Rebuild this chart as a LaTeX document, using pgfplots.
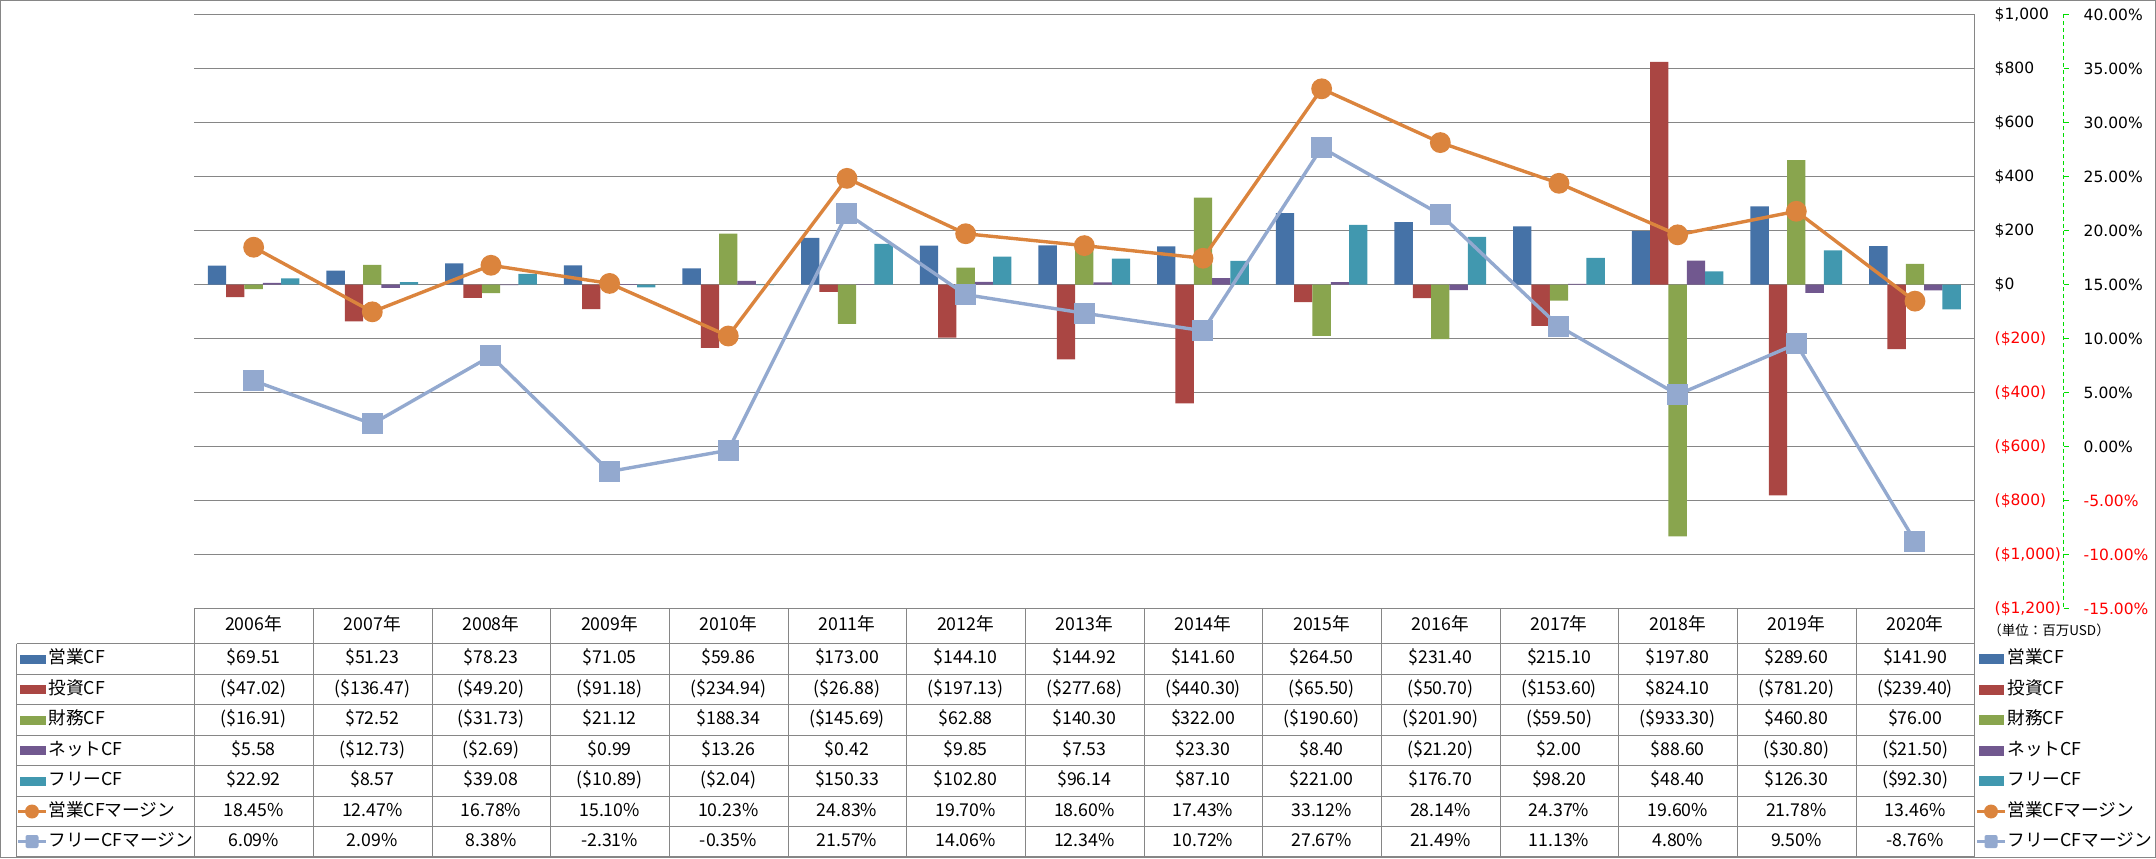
\documentclass[border=0pt]{standalone}
\usepackage{pgfplots}
\usepackage{pgfplotstable}
\pgfplotsset{compat=1.18}
\usepackage{fontspec}
\setmainfont{DejaVu Sans}
\newfontfamily\jp{Noto Sans CJK JP}
\definecolor{cBlue}{HTML}{4572A7}
\definecolor{cRed}{HTML}{AA4643}
\definecolor{cGreen}{HTML}{89A54E}
\definecolor{cPurple}{HTML}{71588F}
\definecolor{cTeal}{HTML}{4198AF}
\definecolor{cOrange}{HTML}{DB843D}
\definecolor{cLBlue}{HTML}{93A9CF}
\definecolor{cGrid}{HTML}{868686}
\definecolor{cAxGreen}{HTML}{00DD00}
\newcommand{\tf}{\jp\fontsize{8.85pt}{10pt}\selectfont}
\newcommand{\af}{\fontsize{7.75pt}{9pt}\selectfont}

\pgfplotstableread{
x op inv fin net free om fm
0 69.51 -47.02 -16.91 5.58 22.92 18.45 6.09
1 51.23 -136.47 72.52 -12.73 8.57 12.47 2.09
2 78.23 -49.20 -31.73 -2.69 39.08 16.78 8.38
3 71.05 -91.18 21.12 0.99 -10.89 15.10 -2.31
4 59.86 -234.94 188.34 13.26 -2.04 10.23 -0.35
5 173.00 -26.88 -145.69 0.42 150.33 24.83 21.57
6 144.10 -197.13 62.88 9.85 102.80 19.70 14.06
7 144.92 -277.68 140.30 7.53 96.14 18.60 12.34
8 141.60 -440.30 322.00 23.30 87.10 17.43 10.72
9 264.50 -65.50 -190.60 8.40 221.00 33.12 27.67
10 231.40 -50.70 -201.90 -21.20 176.70 28.14 21.49
11 215.10 -153.60 -59.50 2.00 98.20 24.37 11.13
12 197.80 824.10 -933.30 88.60 48.40 19.60 4.80
13 289.60 -781.20 460.80 -30.80 126.30 21.78 9.50
14 141.90 -239.40 76.00 -21.50 -92.30 13.46 -8.76
}\cfdata

% row boundaries (px from top): 643.5,674.5,704.5,735.5,765.5,796.5,826.5,856.5
\newcommand{\rc}[1]{\ifcase#1 659\or 689.5\or 720\or 750.5\or 781\or 811.5\or 841.5\fi}
\tikzset{tnode/.style={font=\tf, inner sep=0pt, text height=6.5pt, text depth=1.8pt}}
\newcommand{\trow}[2]{\foreach \v [count=\i] in {#2} {\node[tnode] at ({194.3+118.67*(\i-0.5)},\rc{#1}) {\v};}}

\begin{document}
\begin{tikzpicture}
\path[use as bounding box] (0,0) rectangle (1078pt,429pt);
\begin{axis}[
  at={(97.15pt,124.75pt)}, anchor=south west, scale only axis,
  width=890pt, height=297pt,
  xmin=-0.5, xmax=14.5, ymin=-1200, ymax=1000,
  axis line style={draw=none}, xtick=\empty,
  ytick={-1200,-1000,-800,-600,-400,-200,0,200,400,600,800,1000},
  yticklabels={{\textcolor{red}{(\$1,200)}},{\textcolor{red}{(\$1,000)}},{\textcolor{red}{(\$800)}},{\textcolor{red}{(\$600)}},{\textcolor{red}{(\$400)}},{\textcolor{red}{(\$200)}},{\$0},{\$200},{\$400},{\$600},{\$800},{\$1,000}},
  yticklabel pos=right,
  yticklabel style={anchor=west, inner sep=0pt, xshift=10pt, font=\af},
  major tick length=0pt,
  ymajorgrids, grid style={color=cGrid, line width=0.65pt},
]
\addplot[ybar, bar width=9.17pt, bar shift=-18.33pt, fill=cBlue, draw=none] table[x=x,y=op]{\cfdata};
\addplot[ybar, bar width=9.17pt, bar shift=-9.17pt, fill=cRed, draw=none] table[x=x,y=inv]{\cfdata};
\addplot[ybar, bar width=9.17pt, bar shift=0pt, fill=cGreen, draw=none] table[x=x,y=fin]{\cfdata};
\addplot[ybar, bar width=9.17pt, bar shift=9.17pt, fill=cPurple, draw=none] table[x=x,y=net]{\cfdata};
\addplot[ybar, bar width=9.17pt, bar shift=18.33pt, fill=cTeal, draw=none] table[x=x,y=free]{\cfdata};
\end{axis}
\begin{axis}[
  at={(97.15pt,124.75pt)}, anchor=south west, scale only axis,
  width=890pt, height=297pt,
  xmin=-0.5, xmax=14.5, ymin=-15, ymax=40,
  axis line style={draw=none}, xtick=\empty,
  ytick={-15,-10,-5,0,5,10,15,20,25,30,35,40},
  yticklabels={{\textcolor{red}{-15.00\%}},{\textcolor{red}{-10.00\%}},{\textcolor{red}{-5.00\%}},{0.00\%},{5.00\%},{10.00\%},{15.00\%},{20.00\%},{25.00\%},{30.00\%},{35.00\%},{40.00\%}},
  yticklabel pos=right,
  yticklabel style={anchor=west, inner sep=0pt, xshift=54.5pt, font=\af},
  major tick length=0pt,
]
\addplot[cOrange, line width=1.7pt, mark=*, mark size=4.35pt, mark options={draw=none, fill=cOrange}] table[x=x,y=om]{\cfdata};
\addplot[cLBlue, line width=1.7pt, mark=square*, mark size=4.4pt, mark options={draw=none, fill=cLBlue, rounded corners=1.2pt}] table[x=x,y=fm]{\cfdata};
\end{axis}

\begin{scope}[shift={(0pt,429pt)}, x=0.5pt, y=-0.5pt]
  % outer border
  \draw[cGrid, line width=0.65pt] (0.5,0.5) rectangle (2155.5,857.5);
  % table grid
  \draw[cGrid, line width=0.65pt] (194.5,608.5) -- (1974.5,608.5);
  \foreach \yy in {643.5,674.5,704.5,735.5,765.5,796.5,826.5,856.5} {\draw[cGrid, line width=0.65pt] (16.5,\yy) -- (1974.5,\yy);}
  \draw[cGrid, line width=0.65pt] (16.5,643.5) -- (16.5,856.5);
  \foreach \j in {0,...,14} {\draw[cGrid, line width=0.65pt] ({round(194.3+118.67*\j)+0.5},608.5) -- ({round(194.3+118.67*\j)+0.5},856.5);}
  \draw[cGrid, line width=0.65pt] (1974.5,14.5) -- (1974.5,856.5);
  % secondary axis line (green dashed) with ticks
  \draw[cAxGreen, line width=0.5pt, dash pattern=on 2pt off 1.5pt] (2063.5,14.5) -- (2063.5,608.5);
  \foreach \k in {0,...,11} {\draw[cAxGreen, line width=0.5pt] (2063.5,{14.5+54*\k}) -- (2068.5,{14.5+54*\k});}
  % unit
  \node[font=\jp\fontsize{6.75pt}{8pt}\selectfont, inner sep=0pt] at (2049,630) {（単位：百万USD）};
  % header
  \foreach \yr [count=\i] in {2006,...,2020} {\node[tnode] at ({194.3+118.67*(\i-0.5)},626) {\yr{}年};}
  % rows
  \trow{0}{{\$69.51},{\$51.23},{\$78.23},{\$71.05},{\$59.86},{\$173.00},{\$144.10},{\$144.92},{\$141.60},{\$264.50},{\$231.40},{\$215.10},{\$197.80},{\$289.60},{\$141.90}}
  \trow{1}{{(\$47.02)},{(\$136.47)},{(\$49.20)},{(\$91.18)},{(\$234.94)},{(\$26.88)},{(\$197.13)},{(\$277.68)},{(\$440.30)},{(\$65.50)},{(\$50.70)},{(\$153.60)},{\$824.10},{(\$781.20)},{(\$239.40)}}
  \trow{2}{{(\$16.91)},{\$72.52},{(\$31.73)},{\$21.12},{\$188.34},{(\$145.69)},{\$62.88},{\$140.30},{\$322.00},{(\$190.60)},{(\$201.90)},{(\$59.50)},{(\$933.30)},{\$460.80},{\$76.00}}
  \trow{3}{{\$5.58},{(\$12.73)},{(\$2.69)},{\$0.99},{\$13.26},{\$0.42},{\$9.85},{\$7.53},{\$23.30},{\$8.40},{(\$21.20)},{\$2.00},{\$88.60},{(\$30.80)},{(\$21.50)}}
  \trow{4}{{\$22.92},{\$8.57},{\$39.08},{(\$10.89)},{(\$2.04)},{\$150.33},{\$102.80},{\$96.14},{\$87.10},{\$221.00},{\$176.70},{\$98.20},{\$48.40},{\$126.30},{(\$92.30)}}
  \trow{5}{{18.45\%},{12.47\%},{16.78\%},{15.10\%},{10.23\%},{24.83\%},{19.70\%},{18.60\%},{17.43\%},{33.12\%},{28.14\%},{24.37\%},{19.60\%},{21.78\%},{13.46\%}}
  \trow{6}{{6.09\%},{2.09\%},{8.38\%},{-2.31\%},{-0.35\%},{21.57\%},{14.06\%},{12.34\%},{10.72\%},{27.67\%},{21.49\%},{11.13\%},{4.80\%},{9.50\%},{-8.76\%}}
  % row labels with keys (left) and legend (right)
  \foreach \lab/\col [count=\r from 0] in {営業CF/cBlue,投資CF/cRed,財務CF/cGreen,ネットCF/cPurple,フリーCF/cTeal} {
    \fill[\col] (20,{\rc{\r}-4.5}) rectangle (45.5,{\rc{\r}+4.5});
    \node[tnode, anchor=west] at (48,\rc{\r}) {\lab};
    \fill[\col] (1979,{\rc{\r}-5}) rectangle (2004,{\rc{\r}+5});
    \node[tnode, anchor=west] at (2007,\rc{\r}) {\lab};
  }
  % line keys
  \draw[cOrange, line width=1.5pt] (18,\rc{5}) -- (46,\rc{5});
  \fill[cOrange] (32,\rc{5}) circle[radius=7];
  \node[tnode, anchor=west] at (48,\rc{5}) {営業CFマージン};
  \draw[cLBlue, line width=1.5pt] (18,\rc{6}) -- (46,\rc{6});
  \fill[cLBlue, rounded corners=1pt] (25.5,{\rc{6}-6.5}) rectangle (38.5,{\rc{6}+6.5});
  \node[tnode, anchor=west] at (48,\rc{6}) {フリーCFマージン};
  \draw[cOrange, line width=1.5pt] (1977,\rc{5}) -- (2005,\rc{5});
  \fill[cOrange] (1991,\rc{5}) circle[radius=7];
  \node[tnode, anchor=west] at (2007,\rc{5}) {営業CFマージン};
  \draw[cLBlue, line width=1.5pt] (1977,\rc{6}) -- (2005,\rc{6});
  \fill[cLBlue, rounded corners=1pt] (1984.5,{\rc{6}-6.5}) rectangle (1997.5,{\rc{6}+6.5});
  \node[tnode, anchor=west] at (2007,\rc{6}) {フリーCFマージン};
\end{scope}
\end{tikzpicture}
\end{document}
